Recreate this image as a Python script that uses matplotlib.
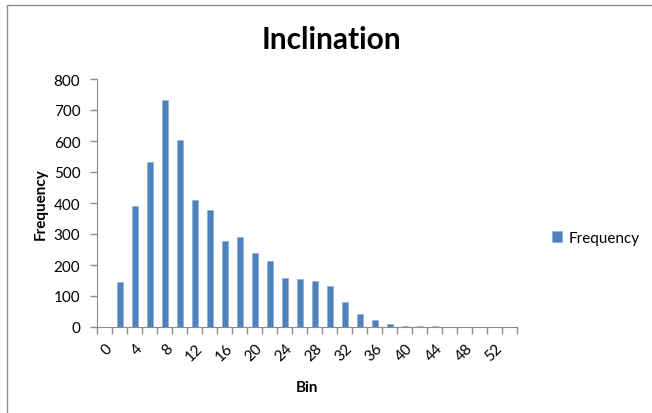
import matplotlib
matplotlib.use("Agg")
import matplotlib.pyplot as plt
from matplotlib.patches import Rectangle

plt.rcParams["font.family"] = ["Lato", "DejaVu Sans"]

# Histogram bins (Excel style, with trailing "More" bucket)
bins = ["0", "2", "4", "6", "8", "10", "12", "14", "16", "18", "20", "22", "24",
        "26", "28", "30", "32", "34", "36", "38", "40", "42", "44", "46", "48",
        "50", "52", "More"]
frequency = [0, 145, 390, 531, 731, 604, 411, 377, 278, 291, 239, 214, 158,
             155, 150, 133, 80, 41, 22, 10, 4, 3, 2, 0, 0, 0, 0, 1]
y_ticks = [0, 100, 200, 300, 400, 500, 600, 700, 800]

W, H = 652, 414
fig = plt.figure(figsize=(W / 100, H / 100), dpi=100)
fig.patch.set_facecolor("white")

# chart area border
fig.patches.append(Rectangle((7 / W, -0.01), 1.02, 1 - 6 / H + 0.01,
                             transform=fig.transFigure, fill=False,
                             edgecolor="#8c8c8c", lw=1.0))

ax = fig.add_axes([97 / W, (H - 328) / H, (517 - 97) / W, (328 - 80) / H])
x = list(range(len(bins)))
ax.bar(x, frequency, width=0.4, color="#4F81BD", edgecolor="#8fb0d8",
       linewidth=0.5, label="Frequency")

ax.set_xlim(-0.5, len(bins) - 0.5)
ax.set_ylim(0, 800)
ax.set_yticks(y_ticks)
ax.tick_params(axis="y", length=5, width=1, color="#8c8c8c", labelsize=11,
               pad=7)

# tick marks between categories, labels on every other bin
ax.set_xticks([i - 0.5 for i in range(len(bins) + 1)])
ax.set_xticklabels([])
ax.tick_params(axis="x", length=5, width=1, color="#8c8c8c")
for i in range(0, len(bins) - 1, 2):
    ax.text(i + 0.05, -45, bins[i], rotation=45, ha="right", va="top",
            rotation_mode="anchor", fontsize=11)

for side in ["top", "right"]:
    ax.spines[side].set_visible(False)
for side in ["left", "bottom"]:
    ax.spines[side].set_color("#8c8c8c")

ax.set_xlabel("Bin", fontweight="bold", fontsize=11, labelpad=30)
ax.set_ylabel("Frequency", fontweight="bold", fontsize=11, labelpad=4)
fig.text(331 / W, 1 - 40 / H, "Inclination", ha="center", va="center",
         fontsize=21.5, fontweight="bold")

ax.legend(loc="center left", bbox_to_anchor=(1.05, 0.36), frameon=False,
          fontsize=11, handlelength=0.7, handleheight=0.7, handletextpad=0.4)

fig.savefig("out.png", dpi=100)
